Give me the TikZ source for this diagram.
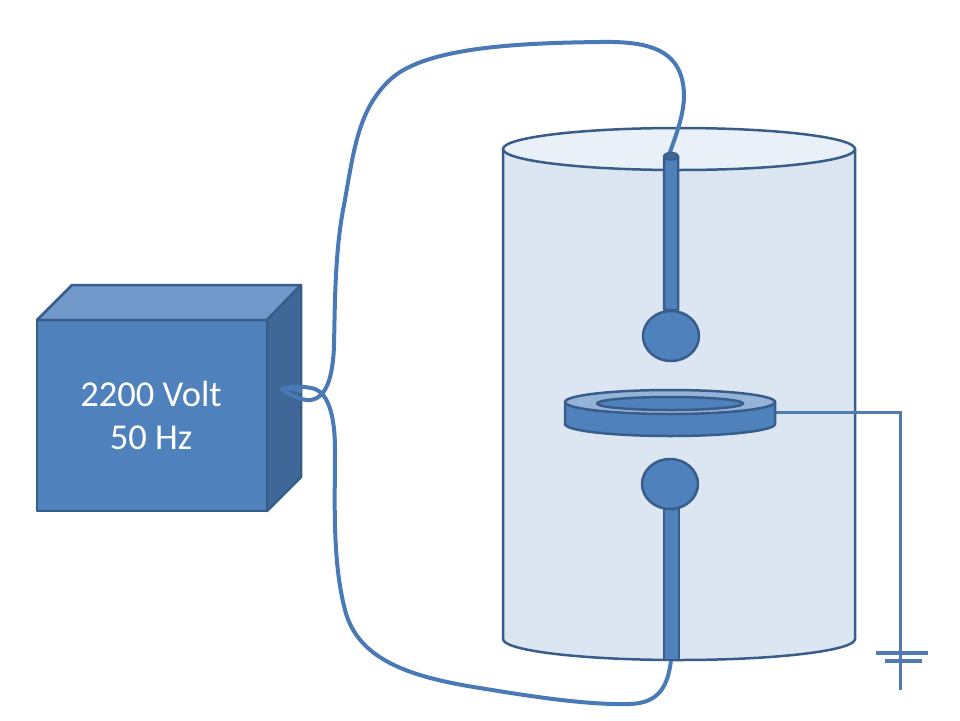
\documentclass[tikz,border=0pt]{standalone}
\usepackage{fontspec}
\setmainfont{Carlito}
\definecolor{edgeblue}{HTML}{385D8A}
\definecolor{mainblue}{HTML}{4F81BD}
\definecolor{topblue}{HTML}{7099C9}
\definecolor{sideblue}{HTML}{3F6797}
\definecolor{wireblue}{HTML}{4A7AB5}
\definecolor{tankblue}{HTML}{DCE6F2}
\definecolor{tanktop}{HTML}{E9F0F8}
\definecolor{ringblue}{HTML}{95B3D7}
\tikzset{
  solid3d/.style={draw=edgeblue,line width=2.5pt,line join=round},
  wire/.style={draw=wireblue,line width=4pt,line cap=round},
  ground/.style={draw=wireblue!90!gray,line width=3pt},
}
\begin{document}
\begin{tikzpicture}[x=1pt,y=-1pt]
\useasboundingbox (0,0) rectangle (960,720);
\fill[white] (0,0) rectangle (960,720);
% tank
\path[solid3d,fill=tankblue] (503,149) -- (503,639) arc[start angle=180,end angle=0,x radius=176,y radius=21] -- (855,149) -- cycle;
\path[solid3d,fill=tanktop] (679,149) ellipse[x radius=176,y radius=21];
% box
\path[solid3d,fill=mainblue] (37,320) rectangle (267,511);
\path[solid3d,fill=topblue] (37,320) -- (72,285) -- (301,285) -- (267,320) -- cycle;
\path[solid3d,fill=sideblue] (267,320) -- (301,285) -- (301,477) -- (267,511) -- cycle;
\node[text=white,font=\fontsize{36.5}{43}\selectfont,align=center] (label) at (151,415) {2200 Volt\\50 Hz};
% wires
\coordinate (src) at (282,389);
\coordinate (topend) at (669,155);
\coordinate (botend) at (671,660);
\fill[wireblue] (src) -- (302,385.5) -- (302,393) -- cycle;
\path[wire] (src) .. controls (290,395) and (302,401) .. (311,400)
  .. controls (325,398) and (333,380) .. (334,345)
  .. controls (335,300) and (335,250) .. (344,205)
  .. controls (354,150) and (358,108) .. (392,78)
  .. controls (428,47) and (520,43) .. (600,42)
  .. controls (650,41) and (683,50) .. (684,95)
  .. controls (684,115) and (676,135) .. (topend);
\path[wire] (src) .. controls (292,386) and (305,386) .. (315,389)
  .. controls (328,394) and (335,415) .. (335,450)
  .. controls (335,500) and (332,560) .. (345,610)
  .. controls (358,660) and (410,677) .. (480,688)
  .. controls (540,698) and (590,705) .. (630,704)
  .. controls (660,703) and (668,685) .. (botend);
% top rod and balls
\path[solid3d,fill=mainblue] (664,310) -- (664,156) arc[start angle=180,end angle=0,x radius=7,y radius=3.5] -- (678,310) -- cycle;
\path[draw=edgeblue,line width=1.5pt,fill=sideblue] (671,156) ellipse[x radius=7,y radius=3.5];
\path[solid3d,fill=mainblue] (671,336) ellipse[x radius=28,y radius=25];
\path[solid3d,fill=mainblue] (664,500) rectangle (679,660);
\path[solid3d,fill=mainblue] (670,484) ellipse[x radius=28,y radius=25];
% ground lead
\coordinate (gtop) at (775,412);
\coordinate (gcorner) at (900,412);
\coordinate (gend) at (900,690);
\path[ground] (gtop) -- (gcorner) -- (gend);
\coordinate (p1l) at (876,653); \coordinate (p1r) at (928,653);
\coordinate (p2l) at (885,661); \coordinate (p2r) at (922,661);
\path[ground,line width=3.5pt] (p1l) -- (p1r);
\path[ground,line width=3.5pt] (p2l) -- (p2r);
% disc
\path[solid3d,fill=mainblue] (565,402) -- (565,424) arc[start angle=180,end angle=0,x radius=105,y radius=12] -- (775,402) -- cycle;
\path[solid3d,fill=ringblue] (670,402) ellipse[x radius=105,y radius=12];
\path[solid3d,fill=mainblue] (670,403.5) ellipse[x radius=73,y radius=6.5];
\end{tikzpicture}
\end{document}
